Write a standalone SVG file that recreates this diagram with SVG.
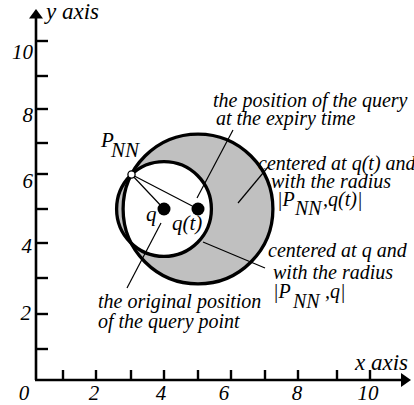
<svg xmlns="http://www.w3.org/2000/svg" width="414" height="405" viewBox="0 0 414 405">
<style>
text{font-family:"Liberation Serif",serif;font-style:italic;fill:#000}
.t{font-size:20px}
.n{font-size:21px}
.ax{font-size:23px}
.axis{stroke:#000;stroke-width:2.6;fill:none}
.tick{stroke:#000;stroke-width:2.4}
.ring{stroke:#000;stroke-width:3.3;fill:none}
.thin{stroke:#000;stroke-width:1.2;fill:none}
</style>
<defs>
<clipPath id="clipB"><circle cx="198" cy="209" r="74.9"/></clipPath>
</defs>
<rect width="414" height="405" fill="#fff"/>
<g id="axes">
<line class="axis" x1="36" y1="380" x2="36" y2="16"/>
<polygon points="36,9 29,18.5 43,18.5" fill="#000"/>
<line class="axis" x1="35" y1="380" x2="403" y2="380"/>
<polygon points="411,380 401,373 401,387" fill="#000"/>
<g class="tick">
<line x1="36" y1="41" x2="48" y2="41"/>
<line x1="36" y1="76" x2="48" y2="76"/>
<line x1="36" y1="109" x2="48" y2="109"/>
<line x1="36" y1="143" x2="48" y2="143"/>
<line x1="36" y1="174" x2="48" y2="174"/>
<line x1="36" y1="209" x2="48" y2="209"/>
<line x1="36" y1="243" x2="48" y2="243"/>
<line x1="36" y1="278" x2="48" y2="278"/>
<line x1="36" y1="314" x2="48" y2="314"/>
<line x1="36" y1="349" x2="48" y2="349"/>
<line x1="63" y1="380" x2="63" y2="370"/>
<line x1="96" y1="380" x2="96" y2="370"/>
<line x1="131" y1="380" x2="131" y2="370"/>
<line x1="164" y1="380" x2="164" y2="370"/>
<line x1="198" y1="380" x2="198" y2="370"/>
<line x1="231" y1="380" x2="231" y2="370"/>
<line x1="265" y1="380" x2="265" y2="370"/>
<line x1="298" y1="380" x2="298" y2="370"/>
<line x1="337" y1="380" x2="337" y2="370"/>
<line x1="370" y1="380" x2="370" y2="370"/>
</g>
<text class="n" text-anchor="end" x="33" y="59">10</text>
<text class="n" text-anchor="end" x="33" y="122">8</text>
<text class="n" text-anchor="end" x="33" y="188">6</text>
<text class="n" text-anchor="end" x="32" y="253">4</text>
<text class="n" text-anchor="end" x="31" y="320">2</text>
<text class="n" text-anchor="middle" x="24" y="400">0</text>
<text class="n" text-anchor="middle" x="94" y="400">2</text>
<text class="n" text-anchor="middle" x="161" y="400">4</text>
<text class="n" text-anchor="middle" x="224" y="400">6</text>
<text class="n" text-anchor="middle" x="297" y="400">8</text>
<text class="n" text-anchor="middle" x="368" y="400">10</text>
<text class="ax" x="46" y="19">y axis</text>
<text class="ax" x="355" y="370">x axis</text>
</g>

<g id="circle-qt">
<circle cx="198" cy="209" r="74.9" fill="#c0c0c0"/>
</g>
<g id="circle-q">
<circle cx="164" cy="209" r="47.4" fill="#c0c0c0"/>
<circle cx="164" cy="209" r="47.4" fill="#fff" clip-path="url(#clipB)"/>
</g>
<g id="rings">
<circle class="ring" cx="198" cy="209" r="74.9"/>
<circle class="ring" cx="164" cy="209" r="47.4"/>
</g>

<g id="connectors" class="thin">
<line x1="131.5" y1="174.5" x2="164" y2="209"/>
<line x1="131.5" y1="174.5" x2="198" y2="209"/>
<line x1="233" y1="130" x2="197" y2="198"/>
<line x1="268" y1="167" x2="238" y2="203"/>
<line x1="203" y1="242" x2="265" y2="268"/>
<line x1="161" y1="223" x2="127" y2="288"/>
</g>

<g id="point-q">
<circle cx="164" cy="209" r="6.5" fill="#000"/>
<text class="n" x="146" y="221">q</text>
</g>
<g id="point-qt">
<circle cx="198" cy="209" r="6.5" fill="#000"/>
<text class="n" x="172" y="230">q(t)</text>
</g>
<g id="point-pnn">
<circle cx="131.5" cy="174.5" r="3.6" fill="#fff" stroke="#000" stroke-width="1.3"/>
<text class="n" x="101" y="147">P<tspan x="111" y="157">NN</tspan></text>
</g>

<g id="label-expiry">
<text class="t" x="213" y="107">the position of the query</text>
<text class="t" x="216" y="125">at the expiry time</text>
</g>
<g id="label-circle-qt">
<text class="t" x="258" y="170">centered at q(t) and</text>
<text class="t" x="271" y="188">with the radius</text>
<text class="t" x="277" y="206">|P<tspan x="295" y="215">NN</tspan><tspan x="323" y="206">,q(t)|</tspan></text>
</g>
<g id="label-circle-q">
<text class="t" x="268" y="257">centered at q and</text>
<text class="t" x="273" y="279">with the radius</text>
<text class="t" x="273" y="298">|P<tspan x="293" y="308">NN</tspan><tspan x="325" y="298">,q|</tspan></text>
</g>
<g id="label-original">
<text class="t" x="98" y="308">the original position</text>
<text class="t" x="98" y="328">of the query point</text>
</g>
</svg>
